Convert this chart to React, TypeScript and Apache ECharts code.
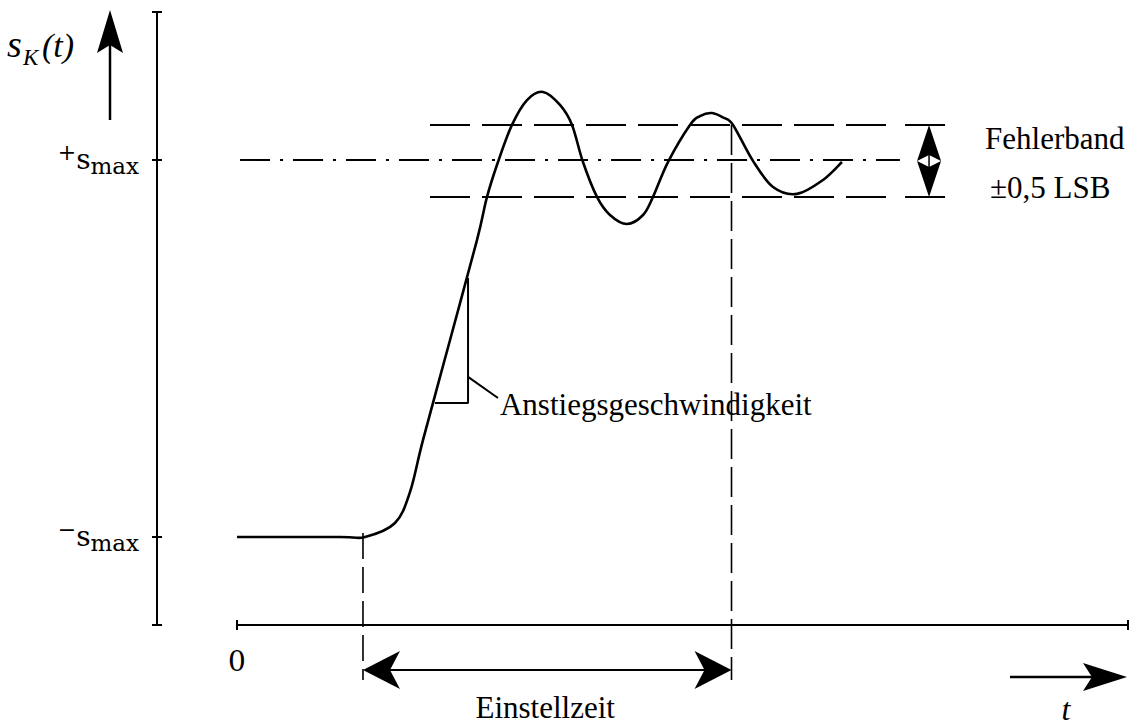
import React, { useEffect, useRef } from "react";
import * as echarts from "echarts";

// ---- Data (time t in arbitrary units, signal s in units of s_max) ----
const T_MIN = 0;
const T_MAX = 10;
const S_MIN = -1.467;
const S_MAX = 1.785;

const yTickValues = [S_MIN, -1, 1, S_MAX];
const yLabelValues = [-1, 1];
const xTickValues = [T_MIN, T_MAX];
const xLabelValues = [0];

// settling curve s_K(t)
const curveT = [0, 1.156, 1.437, 1.773, 1.942, 2.088, 2.391, 2.694, 2.806, 2.929, 3.086, 3.255, 3.434, 3.625, 3.76, 3.883, 4.04, 4.186, 4.377, 4.557, 4.669, 4.837, 5.084, 5.196, 5.331, 5.466, 5.567, 5.791, 6.016, 6.285, 6.577, 6.79];
const curveS = [-1, -1, -1, -0.926, -0.761, -0.485, 0.045, 0.576, 0.804, 0.989, 1.186, 1.318, 1.361, 1.292, 1.186, 0.989, 0.804, 0.708, 0.66, 0.708, 0.804, 0.989, 1.186, 1.233, 1.249, 1.223, 1.186, 0.995, 0.857, 0.82, 0.894, 0.989];

// error band (+-0.5 LSB around +s_max)
const bandUpper = 1.186;
const bandLower = 0.804;
const bandStartT = 2.166;
const bandEndT = 7.363;
const setpoint = 1;
const setpointStartT = 0.034;
const setpointEndT = 7.44;
const bandArrowT = 7.767;

// settling time
const stepT = 1.414;
const settledT = 5.55;
const dimLineS = -1.706;
const guideBottomS = -1.759;
const stepGuideTopS = -0.979;

// slope triangle
const slopeTriT = [2.593, 2.593, 2.222];
const slopeTriS = [0.374, -0.289, -0.289];
const leaderT = [2.593, 2.929];
const leaderS = [-0.151, -0.263];

const SERIF = '"Liberation Serif", "Times New Roman", serif';
const SERIF2 = '"DejaVu Serif", serif';

function pairs(xs: number[], ys: number[]) {
  return xs.map((x, i) => [x, ys[i]]);
}

export default function App() {
  const ref = useRef<HTMLDivElement>(null);
  useEffect(() => {
    if (!ref.current) return;
    const chart = echarts.init(ref.current, undefined, { renderer: "svg" });
    const black = "#000";
    const yLabelRich = {
      sup: { fontSize: 22, fontFamily: SERIF2, lineHeight: 20, verticalAlign: "top", color: black },
      s: { fontSize: 28, fontFamily: SERIF2, lineHeight: 36, verticalAlign: "middle", color: black },
      sub: { fontSize: 23, fontFamily: SERIF2, lineHeight: 22, verticalAlign: "bottom", color: black },
    };
    const option: any = {
      animation: false,
      backgroundColor: "#fff",
      grid: { left: 237, top: 12, width: 891, height: 613, containLabel: false },
      xAxis: [
        {
          type: "value", min: T_MIN, max: T_MAX,
          splitLine: { show: false },
          axisLine: { show: true, onZero: false, lineStyle: { color: black, width: 2 } },
          axisTick: { show: true, customValues: xTickValues, length: 5, lineStyle: { color: black, width: 2 } },
          axisLabel: {
            show: true, customValues: xLabelValues, margin: 22, color: black,
            fontFamily: SERIF2, fontSize: 28, formatter: (v: number) => String(v),
          },
        },
        {
          type: "value", min: T_MIN, max: T_MAX, position: "bottom",
          splitLine: { show: false },
          axisLine: { show: false, onZero: false },
          axisTick: { show: true, inside: true, customValues: xTickValues, length: 5, lineStyle: { color: black, width: 2 } },
          axisLabel: { show: false },
        },
      ],
      yAxis: [
        {
          type: "value", min: S_MIN, max: S_MAX, offset: 80,
          splitLine: { show: false },
          axisLine: { show: true, onZero: false, lineStyle: { color: black, width: 2 } },
          axisTick: { show: true, customValues: yTickValues, length: 5, lineStyle: { color: black, width: 2 } },
          axisLabel: {
            show: true, customValues: yLabelValues, margin: 18,
            formatter: (v: number) => (v > 0 ? "{sup|+}{s|s}{sub|max}" : "{sup|\u2212}{s|s}{sub|max}"),
            rich: yLabelRich,
          },
        },
        {
          type: "value", min: S_MIN, max: S_MAX, offset: 80, position: "left",
          splitLine: { show: false },
          axisLine: { show: false, onZero: false },
          axisTick: { show: true, inside: true, customValues: yTickValues, length: 5, lineStyle: { color: black, width: 2 } },
          axisLabel: { show: false },
        },
      ],
      series: [
        {
          // curve drawn as a Catmull-Rom spline through the read points, positioned by the axes
          name: "curve", type: "custom", clip: false,
          data: pairs(curveT, curveS),
          encode: { x: 0, y: 1 },
          renderItem: (params: any, api: any) => {
            if (params.dataIndex !== 0) return null;
            const pts = curveT.map((t, i) => api.coord([t, curveS[i]]));
            let d = `M${pts[0][0]},${pts[0][1]}`;
            for (let i = 0; i < pts.length - 1; i++) {
              const p0 = pts[i - 1] || pts[i];
              const p1 = pts[i];
              const p2 = pts[i + 1];
              const p3 = pts[i + 2] || pts[i + 1];
              const c1x = p1[0] + (p2[0] - p0[0]) / 6;
              const c1y = p1[1] + (p2[1] - p0[1]) / 6;
              const c2x = p2[0] - (p3[0] - p1[0]) / 6;
              const c2y = p2[1] - (p3[1] - p1[1]) / 6;
              d += ` C${c1x},${c1y} ${c2x},${c2y} ${p2[0]},${p2[1]}`;
            }
            return {
              type: "path",
              shape: { pathData: d },
              style: { stroke: black, fill: "none", lineWidth: 2.6, lineJoin: "round" },
            };
          },
        },
        {
          name: "bandUpper", type: "line", data: [[bandStartT, bandUpper], [bandEndT, bandUpper]],
          showSymbol: false, clip: false, lineStyle: { color: black, width: 2, type: [40, 12] },
        },
        {
          name: "bandLower", type: "line", data: [[bandStartT, bandLower], [bandEndT, bandLower]],
          showSymbol: false, clip: false, lineStyle: { color: black, width: 2, type: [40, 12] },
        },
        {
          name: "setpoint", type: "line", data: [[setpointStartT, setpoint], [setpointEndT, setpoint]],
          showSymbol: false, clip: false, lineStyle: { color: black, width: 2, type: [30, 10, 3, 10] },
        },
        {
          name: "stepGuide", type: "line", data: [[stepT, stepGuideTopS], [stepT, guideBottomS]],
          showSymbol: false, clip: false, lineStyle: { color: black, width: 1.6, type: [26, 8] },
        },
        {
          name: "settledGuide", type: "line", data: [[settledT, bandUpper], [settledT, guideBottomS]],
          showSymbol: false, clip: false, lineStyle: { color: black, width: 1.6, type: [30, 8] },
        },
        {
          name: "slope", type: "line", data: pairs(slopeTriT, slopeTriS),
          showSymbol: false, clip: false, lineStyle: { color: black, width: 2 },
        },
        {
          name: "leader", type: "line", data: pairs(leaderT, leaderS),
          showSymbol: false, clip: false, lineStyle: { color: black, width: 2 },
          endLabel: {
            show: true, formatter: "Anstiegsgeschwindigkeit", distance: 2, offset: [0, 6],
            fontFamily: SERIF, fontSize: 31, color: black,
          },
        },
        {
          name: "settling", type: "custom", clip: false,
          data: [[stepT, settledT, dimLineS]],
          renderItem: (params: any, api: any) => {
            const a = api.coord([api.value(0), api.value(2)]);
            const b = api.coord([api.value(1), api.value(2)]);
            const y = a[1];
            return {
              type: "group",
              children: [
                { type: "line", shape: { x1: a[0] + 20, y1: y, x2: b[0] - 20, y2: y }, style: { stroke: black, lineWidth: 2 } },
                { type: "polygon", shape: { points: [[a[0], y], [a[0] + 37, y - 19], [a[0] + 27, y], [a[0] + 37, y + 19]] }, style: { fill: black } },
                { type: "polygon", shape: { points: [[b[0], y], [b[0] - 37, y - 19], [b[0] - 27, y], [b[0] - 37, y + 19]] }, style: { fill: black } },
                {
                  type: "text", x: (a[0] + b[0]) / 2 - 2, y: y + 37,
                  style: { text: "Einstellzeit", fill: black, font: `31px ${SERIF}`, align: "center", verticalAlign: "middle" },
                },
              ],
            };
          },
        },
        {
          name: "errorBand", type: "custom", clip: false,
          data: [[bandArrowT, bandUpper, bandLower]],
          renderItem: (params: any, api: any) => {
            const top = api.coord([api.value(0), api.value(1)]);
            const bot = api.coord([api.value(0), api.value(2)]);
            const cx = top[0];
            const cy = (top[1] + bot[1]) / 2;
            const hw = 12;
            return {
              type: "group",
              children: [
                { type: "line", shape: { x1: cx - 24, y1: top[1], x2: cx + 16, y2: top[1] }, style: { stroke: black, lineWidth: 2 } },
                { type: "line", shape: { x1: cx - 24, y1: bot[1], x2: cx + 16, y2: bot[1] }, style: { stroke: black, lineWidth: 2 } },
                { type: "polygon", shape: { points: [[cx, top[1]], [cx + hw, cy], [cx, cy - 6], [cx - hw, cy]] }, style: { fill: black } },
                { type: "polygon", shape: { points: [[cx, bot[1]], [cx + hw, cy], [cx, cy + 6], [cx - hw, cy]] }, style: { fill: black } },
                { type: "line", shape: { x1: cx, y1: cy - 6, x2: cx, y2: cy + 6 }, style: { stroke: black, lineWidth: 1.5 } },
                {
                  type: "text", x: cx + 56, y: top[1] + 14,
                  style: { text: "Fehlerband", fill: black, font: `31px ${SERIF}`, align: "left", verticalAlign: "middle" },
                },
                {
                  type: "text", x: cx + 61, y: bot[1] - 9,
                  style: { text: "\u00b10,5 LSB", fill: black, font: `31px ${SERIF}`, align: "left", verticalAlign: "middle" },
                },
              ],
            };
          },
        },
      ],
      graphic: [
        // ordinate direction arrow
        { type: "line", shape: { x1: 110, y1: 120, x2: 110, y2: 44 }, style: { stroke: black, lineWidth: 2.5 } },
        { type: "polygon", shape: { points: [[110, 10], [123, 53], [110, 45], [97, 53]] }, style: { fill: black } },
        { type: "text", x: 7, y: 44, style: { text: "s", font: `italic 38px ${SERIF}`, fill: black, verticalAlign: "middle" } },
        { type: "text", x: 23, y: 57, style: { text: "K", font: `italic 23px ${SERIF}`, fill: black, verticalAlign: "middle" } },
        { type: "text", x: 42, y: 45, style: { text: "(t)", font: `italic 34px ${SERIF}`, fill: black, verticalAlign: "middle" } },
        // time direction arrow
        { type: "line", shape: { x1: 1010, y1: 677, x2: 1092, y2: 677 }, style: { stroke: black, lineWidth: 2.5 } },
        { type: "polygon", shape: { points: [[1127, 677], [1083, 663], [1092, 677], [1083, 691]] }, style: { fill: black } },
        { type: "text", x: 1066, y: 709, style: { text: "t", font: `italic 32px ${SERIF}`, fill: black, align: "center", verticalAlign: "middle" } },
      ],
    };
    chart.setOption(option);
    return () => chart.dispose();
  }, []);
  return (
    <div
      ref={ref}
      style={{ position: "fixed", left: 0, top: 0, width: 1133, height: 726, background: "#fff" }}
    />
  );
}
